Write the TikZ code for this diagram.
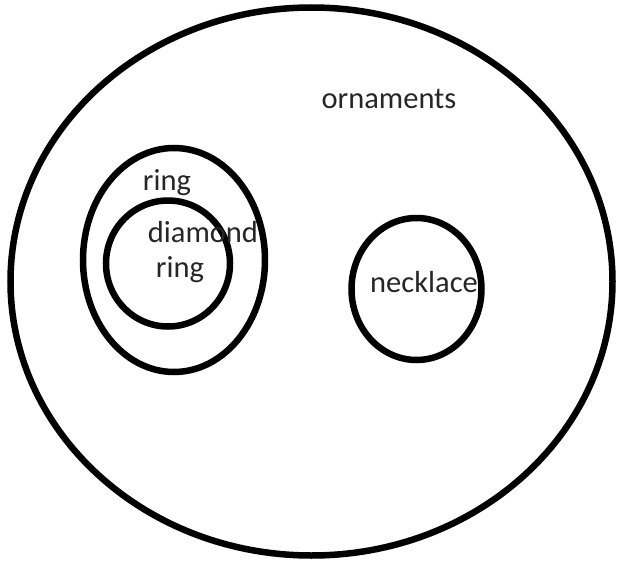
\documentclass[tikz,border=0pt]{standalone}
\usepackage{fontspec}
\setmainfont{Carlito}
\usetikzlibrary{positioning}

\begin{document}
\begin{tikzpicture}[
  x=1pt, y=-1pt,
  setLine/.style={line width=6.5pt, black},
  setLabel/.style={font=\fontsize{30.5}{34}\selectfont, text=black!85,
                   anchor=base, inner sep=0pt}
]
  \useasboundingbox (0,0) rectangle (622,562);

  % Sets
  \draw[setLine] (311.5,281.5) ellipse [x radius=301, y radius=274];
  \draw[setLine] (174,260) ellipse [x radius=91, y radius=112];
  \draw[setLine] (168,263.5) ellipse [x radius=62, y radius=63];
  \draw[setLine] (416.5,289) ellipse [x radius=65, y radius=71];

  % Labels
  \node[setLabel] (ornaments) at (389,108) {ornaments};
  \node[setLabel] (ring) at (167,190) {ring};
  \node[setLabel] (diamond) at (203,242) {diamond};
  \node[setLabel] (dring) at (180,277) {ring};
  \node[setLabel] (necklace) at (424,292) {necklace};
\end{tikzpicture}
\end{document}
